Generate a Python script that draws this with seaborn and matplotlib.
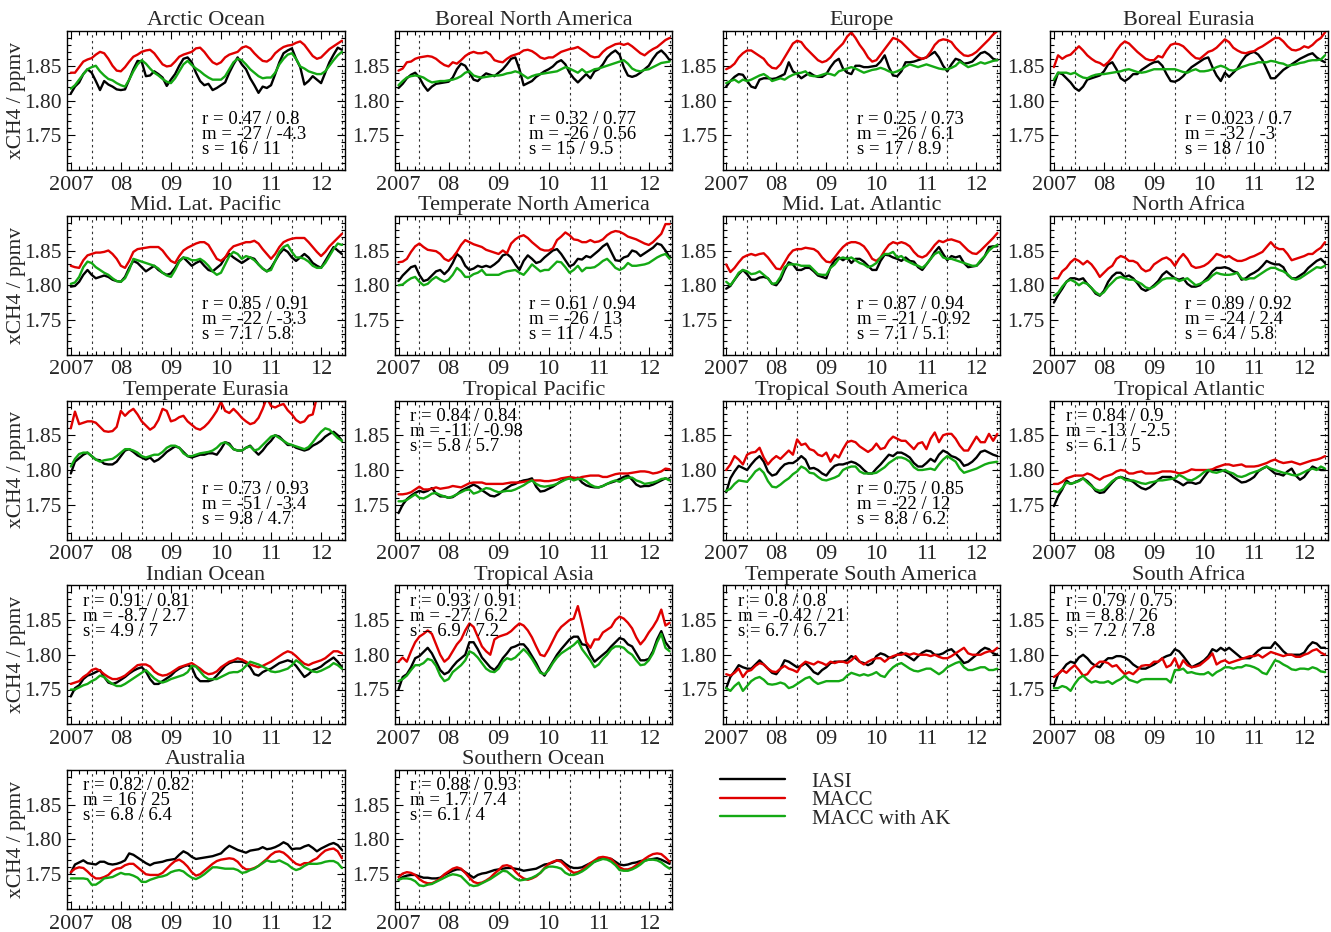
import numpy as np
import pandas as pd
import matplotlib
matplotlib.use("Agg")
import matplotlib.pyplot as plt
from matplotlib.ticker import MultipleLocator
import seaborn as sns

# Monthly regional xCH4 means (ppbv), January 2007 - June 2012
arctic_iasi = [1810,1820,1826,1838,1845,1840,1828,1815,1828,1823,1820,1816, 1815,1816,1830,1845,1857,1856,1835,1836,1842,1838,1833,1821, 1830,1838,1850,1860,1862,1855,1840,1828,1822,1824,1815,1818, 1822,1826,1840,1852,1862,1852,1845,1832,1822,1811,1820,1818, 1822,1838,1855,1868,1872,1875,1860,1848,1823,1828,1835,1830, 1825,1840,1855,1866,1876,1873]
arctic_macc = [1840,1840,1848,1856,1859,1861,1866,1870,1868,1860,1850,1843, 1842,1848,1856,1863,1866,1870,1872,1873,1868,1860,1852,1849, 1850,1856,1863,1866,1868,1870,1875,1876,1870,1862,1855,1852, 1855,1862,1866,1868,1870,1876,1878,1875,1868,1862,1857,1856, 1860,1868,1873,1877,1879,1880,1883,1885,1880,1872,1864,1860, 1862,1868,1874,1878,1882,1886]
arctic_ak = [1817,1822,1830,1838,1845,1848,1850,1842,1836,1831,1829,1825, 1822,1820,1830,1842,1852,1858,1853,1846,1840,1836,1831,1827, 1825,1832,1842,1852,1857,1851,1846,1842,1837,1833,1830,1830, 1830,1835,1845,1855,1860,1858,1852,1845,1840,1835,1832,1833, 1833,1840,1852,1860,1866,1868,1860,1849,1846,1842,1840,1838, 1838,1842,1850,1858,1865,1870]

bna_iasi = [1818,1824,1832,1837,1840,1833,1822,1814,1820,1824,1825,1826, 1827,1833,1845,1853,1850,1840,1830,1828,1834,1839,1837,1835, 1840,1845,1852,1860,1862,1845,1822,1825,1828,1834,1838,1842, 1845,1849,1855,1858,1852,1840,1832,1826,1832,1838,1832,1842, 1845,1852,1862,1868,1872,1866,1848,1836,1834,1836,1840,1845, 1850,1860,1868,1872,1866,1858]
bna_macc = [1843,1846,1855,1856,1860,1862,1863,1864,1863,1860,1855,1851, 1849,1855,1853,1858,1864,1868,1870,1868,1868,1870,1866,1858, 1856,1855,1860,1864,1866,1868,1872,1873,1871,1867,1862,1860, 1862,1862,1866,1870,1872,1874,1875,1877,1873,1869,1864,1862, 1863,1870,1875,1878,1881,1882,1880,1882,1878,1873,1868,1865, 1870,1874,1877,1882,1887,1890]
bna_ak = [1822,1828,1833,1835,1836,1835,1833,1829,1826,1827,1828,1828, 1829,1830,1832,1835,1840,1842,1836,1834,1833,1834,1835,1836, 1836,1837,1839,1840,1842,1840,1836,1832,1835,1837,1838,1839, 1840,1841,1842,1845,1848,1846,1843,1840,1845,1840,1842,1845, 1846,1848,1850,1852,1854,1856,1858,1853,1846,1843,1842,1844, 1845,1848,1851,1854,1855,1856]

eur_iasi = [1820,1828,1834,1838,1837,1828,1820,1818,1830,1832,1832,1831, 1832,1835,1838,1855,1842,1838,1832,1836,1840,1836,1834,1834, 1838,1848,1856,1860,1846,1840,1838,1850,1850,1848,1848,1849, 1850,1856,1865,1848,1836,1835,1842,1855,1855,1856,1858,1860, 1862,1866,1870,1862,1850,1842,1852,1860,1858,1853,1854,1856, 1862,1868,1870,1866,1860,1858]
eur_macc = [1845,1848,1853,1862,1868,1872,1872,1868,1864,1860,1852,1847, 1846,1852,1862,1872,1882,1886,1884,1876,1870,1864,1858,1855, 1857,1862,1870,1876,1882,1892,1898,1890,1880,1872,1862,1856, 1858,1866,1874,1882,1890,1888,1884,1878,1872,1866,1862,1860, 1862,1870,1880,1886,1888,1887,1884,1876,1870,1865,1864,1866, 1870,1876,1882,1888,1895,1900]
eur_ak = [1825,1828,1830,1826,1830,1828,1830,1833,1836,1838,1834,1828, 1830,1832,1830,1834,1837,1839,1840,1842,1836,1835,1835,1837, 1839,1838,1836,1842,1844,1846,1848,1846,1843,1840,1842,1844, 1845,1847,1845,1842,1840,1842,1845,1849,1852,1850,1848,1850, 1852,1850,1848,1846,1845,1845,1847,1850,1856,1852,1848,1850, 1852,1855,1853,1855,1857,1858]

beu_iasi = [1822,1840,1838,1832,1826,1818,1814,1820,1830,1832,1834,1836, 1842,1852,1855,1845,1832,1828,1832,1838,1838,1844,1848,1852, 1855,1856,1850,1838,1828,1827,1830,1835,1842,1848,1852,1856, 1860,1862,1848,1836,1828,1840,1834,1840,1846,1856,1864,1868, 1870,1866,1858,1845,1832,1832,1838,1844,1848,1852,1856,1860, 1863,1866,1868,1862,1858,1855]
beu_macc = [1848,1865,1860,1864,1866,1872,1878,1872,1865,1860,1856,1854, 1850,1855,1862,1872,1880,1885,1882,1876,1870,1865,1860,1858, 1858,1864,1862,1872,1880,1882,1881,1878,1872,1866,1861,1860, 1865,1870,1872,1876,1882,1888,1884,1876,1872,1869,1868,1870, 1871,1875,1878,1882,1886,1890,1890,1885,1878,1873,1872,1874, 1878,1876,1880,1886,1890,1898]
beu_ak = [1830,1840,1840,1840,1838,1840,1836,1833,1832,1835,1837,1838, 1838,1839,1840,1841,1842,1844,1845,1843,1841,1840,1841,1843, 1845,1845,1845,1845,1845,1845,1843,1841,1840,1843,1845,1842, 1842,1843,1845,1848,1850,1848,1844,1843,1845,1848,1850,1852, 1853,1855,1855,1855,1857,1856,1854,1853,1850,1851,1852,1854, 1855,1857,1858,1858,1859,1865]

mlp_iasi = [1798,1799,1805,1815,1822,1815,1810,1812,1814,1812,1808,1806, 1805,1812,1825,1835,1832,1826,1820,1824,1828,1822,1818,1815, 1817,1825,1835,1840,1834,1828,1832,1835,1828,1822,1820,1825, 1830,1840,1845,1840,1836,1832,1836,1840,1838,1830,1824,1820, 1825,1835,1845,1852,1848,1840,1835,1840,1845,1840,1832,1828, 1825,1835,1845,1855,1850,1845]
mlp_macc = [1828,1826,1825,1836,1843,1845,1847,1847,1848,1850,1845,1838, 1828,1825,1835,1848,1852,1853,1854,1855,1855,1855,1850,1842, 1835,1832,1842,1850,1854,1857,1860,1862,1862,1858,1848,1838, 1835,1840,1850,1856,1858,1860,1862,1862,1864,1860,1852,1845, 1838,1845,1855,1862,1865,1867,1868,1868,1868,1862,1855,1848, 1842,1848,1856,1862,1868,1874]
mlp_ak = [1802,1804,1812,1826,1834,1832,1826,1822,1818,1815,1810,1806, 1805,1810,1822,1838,1836,1834,1832,1830,1828,1824,1818,1814, 1812,1822,1834,1840,1839,1836,1836,1838,1834,1828,1820,1815, 1818,1830,1842,1848,1845,1838,1842,1840,1836,1830,1824,1820, 1822,1835,1848,1855,1858,1848,1840,1840,1838,1834,1828,1825, 1825,1832,1842,1852,1860,1858]

tna_iasi = [1806,1814,1820,1826,1828,1815,1806,1808,1814,1820,1822,1816, 1822,1832,1845,1840,1828,1822,1824,1828,1826,1828,1826,1830, 1835,1843,1845,1840,1830,1822,1835,1843,1838,1832,1834,1840, 1845,1850,1852,1845,1836,1827,1830,1838,1837,1842,1840,1845, 1850,1856,1860,1848,1836,1835,1840,1842,1850,1848,1842,1846, 1850,1854,1860,1858,1850,1840]
tna_macc = [1833,1834,1838,1848,1856,1860,1855,1851,1850,1849,1845,1838, 1835,1840,1848,1858,1865,1862,1859,1857,1855,1851,1849,1847, 1845,1850,1846,1860,1866,1870,1872,1868,1862,1857,1852,1850, 1850,1853,1865,1870,1876,1872,1866,1865,1862,1862,1865,1862, 1863,1866,1872,1876,1878,1877,1874,1870,1868,1866,1863,1860, 1858,1862,1868,1874,1888,1888]
tna_ak = [1800,1801,1806,1810,1812,1805,1800,1802,1808,1812,1808,1805, 1808,1815,1825,1820,1812,1812,1816,1818,1822,1815,1815,1815, 1815,1818,1820,1821,1822,1818,1815,1822,1830,1825,1820,1822, 1822,1828,1834,1833,1826,1818,1822,1828,1820,1825,1825,1826, 1830,1835,1838,1832,1825,1822,1825,1832,1828,1828,1829,1830, 1832,1836,1840,1843,1845,1838]

mla_iasi = [1795,1799,1808,1816,1822,1816,1808,1808,1811,1812,1810,1802, 1800,1808,1822,1833,1830,1822,1822,1825,1825,1820,1814,1812, 1810,1826,1836,1840,1836,1840,1832,1838,1838,1834,1828,1822, 1822,1835,1844,1843,1840,1838,1835,1840,1835,1834,1826,1822, 1830,1838,1848,1855,1845,1836,1842,1840,1842,1832,1826,1827, 1828,1834,1842,1855,1856,1856]
mla_macc = [1830,1819,1825,1833,1840,1843,1845,1843,1845,1846,1840,1832, 1824,1823,1833,1843,1850,1852,1852,1854,1853,1852,1848,1840, 1834,1833,1840,1848,1855,1860,1862,1862,1860,1856,1848,1838, 1835,1840,1850,1858,1862,1860,1862,1860,1856,1848,1842,1840, 1843,1850,1858,1864,1862,1865,1866,1864,1862,1856,1850,1846, 1845,1850,1856,1862,1868,1875]
mla_ak = [1805,1800,1808,1818,1822,1820,1816,1817,1820,1815,1810,1802, 1803,1812,1826,1830,1830,1830,1828,1828,1828,1822,1816,1815, 1815,1825,1830,1838,1840,1838,1840,1836,1832,1830,1826,1828, 1832,1840,1845,1845,1848,1840,1842,1836,1833,1830,1828,1825, 1830,1838,1845,1848,1840,1838,1838,1836,1834,1832,1830,1828, 1828,1836,1842,1850,1855,1858]

naf_iasi = [1775,1786,1795,1805,1810,1810,1808,1810,1802,1796,1788,1785, 1792,1805,1813,1818,1818,1812,1814,1810,1803,1795,1792,1795, 1800,1806,1815,1820,1815,1810,1808,1810,1802,1798,1798,1800, 1806,1812,1820,1825,1825,1826,1824,1820,1818,1808,1810,1815, 1818,1822,1828,1835,1832,1830,1830,1826,1815,1810,1810,1814, 1818,1825,1830,1835,1838,1832]
naf_macc = [1810,1810,1820,1825,1833,1838,1835,1830,1835,1830,1822,1812, 1818,1824,1828,1838,1842,1840,1835,1835,1832,1824,1820,1822, 1830,1834,1838,1840,1836,1828,1838,1845,1838,1828,1825,1826, 1828,1832,1838,1845,1843,1840,1842,1838,1835,1835,1837,1840, 1842,1845,1848,1855,1862,1855,1852,1852,1845,1836,1838,1840, 1842,1845,1845,1850,1854,1862]
naf_ak = [1785,1789,1798,1805,1808,1805,1800,1804,1802,1796,1790,1786, 1790,1798,1804,1810,1812,1810,1808,1808,1805,1802,1797,1795, 1798,1803,1808,1810,1810,1810,1806,1808,1810,1805,1800,1802, 1805,1808,1814,1818,1816,1815,1815,1816,1818,1810,1808,1810, 1810,1814,1818,1822,1825,1825,1822,1820,1816,1810,1808,1810, 1814,1818,1822,1826,1825,1828]

teu_iasi = [1795,1812,1817,1822,1825,1820,1815,1814,1809,1808,1808,1812, 1820,1828,1830,1826,1821,1818,1815,1818,1812,1815,1820,1826, 1830,1834,1832,1826,1820,1818,1820,1822,1822,1824,1824,1822, 1830,1840,1838,1830,1828,1828,1832,1835,1828,1822,1828,1836, 1842,1850,1848,1842,1836,1836,1832,1830,1828,1830,1835,1838, 1842,1848,1852,1855,1850,1842]
teu_macc = [1860,1884,1866,1868,1870,1870,1868,1862,1856,1855,1856,1862, 1885,1878,1884,1888,1880,1870,1864,1858,1862,1872,1888,1885, 1870,1872,1876,1878,1870,1865,1860,1858,1862,1868,1876,1885, 1898,1885,1882,1888,1882,1875,1870,1866,1868,1875,1888,1904, 1892,1890,1893,1895,1886,1880,1872,1868,1870,1878,1880,1905, 1910,1912,1908,1906,1904,1899]
teu_ak = [1805,1816,1823,1825,1825,1820,1815,1812,1814,1815,1816,1820, 1825,1830,1830,1828,1825,1820,1818,1820,1822,1822,1826,1832, 1835,1835,1832,1824,1820,1820,1822,1824,1825,1826,1828,1832, 1838,1840,1836,1830,1828,1828,1832,1834,1828,1830,1836,1842, 1848,1850,1846,1842,1838,1836,1834,1832,1830,1833,1840,1848, 1855,1860,1858,1852,1846,1842]

tpac_iasi = [1738,1750,1758,1763,1767,1770,1768,1770,1774,1766,1762,1762, 1760,1761,1765,1770,1773,1776,1779,1776,1771,1767,1763,1762, 1765,1770,1774,1778,1780,1783,1785,1786,1788,1776,1769,1770, 1773,1776,1780,1784,1787,1788,1787,1789,1782,1778,1776,1775, 1775,1777,1780,1782,1784,1787,1790,1792,1786,1779,1776,1777, 1777,1779,1782,1785,1788,1786]
tpac_macc = [1765,1765,1766,1768,1772,1776,1772,1772,1773,1775,1773,1774, 1775,1777,1776,1775,1778,1781,1782,1782,1782,1780,1780,1780, 1780,1780,1781,1782,1782,1782,1783,1784,1785,1785,1785,1784, 1784,1785,1786,1788,1789,1790,1789,1788,1790,1791,1792,1792, 1792,1790,1790,1792,1794,1795,1795,1795,1796,1797,1798,1798, 1797,1795,1796,1798,1802,1801]
tpac_ak = [1755,1755,1757,1761,1765,1760,1759,1762,1766,1767,1764,1762, 1760,1762,1765,1768,1771,1772,1766,1768,1771,1774,1773,1770, 1768,1769,1770,1770,1772,1775,1778,1782,1785,1780,1777,1776, 1777,1778,1780,1783,1786,1788,1785,1787,1787,1784,1779,1776, 1775,1777,1780,1783,1785,1783,1787,1789,1789,1785,1783,1780, 1781,1782,1784,1787,1788,1785]

tsa_iasi = [1768,1788,1798,1806,1803,1800,1808,1815,1820,1812,1798,1792, 1794,1802,1808,1810,1810,1814,1820,1815,1802,1803,1800,1795, 1792,1800,1806,1808,1808,1810,1812,1810,1806,1800,1795,1795, 1802,1808,1815,1822,1820,1825,1825,1822,1818,1810,1805,1805, 1810,1816,1812,1822,1828,1825,1820,1818,1814,1806,1808,1812, 1818,1826,1828,1825,1822,1820]
tsa_macc = [1800,1808,1820,1815,1808,1822,1825,1826,1832,1818,1808,1815, 1820,1816,1822,1828,1822,1844,1836,1838,1830,1828,1822,1820, 1825,1812,1822,1818,1830,1840,1842,1840,1834,1830,1826,1830, 1838,1830,1832,1842,1848,1845,1842,1842,1836,1830,1838,1840, 1830,1845,1854,1840,1850,1852,1852,1845,1835,1828,1828,1838, 1848,1840,1840,1852,1842,1852]
tsa_ak = [1770,1773,1780,1785,1784,1783,1790,1798,1802,1796,1784,1776, 1775,1779,1784,1788,1794,1798,1805,1802,1796,1795,1790,1786, 1785,1787,1789,1792,1800,1803,1805,1805,1798,1795,1795,1795, 1796,1800,1804,1810,1814,1818,1818,1816,1812,1804,1800,1800, 1801,1802,1800,1808,1815,1820,1816,1812,1802,1796,1798,1800, 1802,1805,1808,1810,1811,1812]

tatl_iasi = [1748,1762,1772,1785,1780,1782,1785,1788,1784,1778,1770,1767, 1768,1775,1782,1788,1790,1788,1786,1783,1778,1774,1772,1775, 1780,1786,1790,1790,1790,1785,1782,1778,1782,1782,1780,1782, 1790,1798,1800,1800,1800,1798,1795,1790,1786,1782,1783,1786, 1790,1798,1802,1805,1800,1795,1794,1792,1798,1802,1792,1786, 1790,1798,1805,1802,1800,1800]
tatl_macc = [1780,1780,1783,1788,1790,1792,1792,1792,1795,1793,1789,1786, 1790,1792,1794,1798,1800,1799,1795,1795,1797,1798,1795,1795, 1795,1796,1798,1798,1798,1797,1795,1796,1798,1801,1800,1800, 1800,1800,1801,1804,1806,1808,1808,1806,1807,1808,1805,1805, 1805,1806,1808,1810,1813,1815,1812,1810,1811,1812,1810,1808, 1810,1812,1814,1815,1817,1820]
tatl_ak = [1770,1768,1774,1782,1780,1782,1784,1788,1782,1777,1772,1770, 1772,1778,1784,1788,1790,1786,1785,1785,1783,1781,1780,1782, 1783,1785,1785,1786,1787,1788,1793,1790,1786,1785,1788,1792, 1797,1800,1797,1796,1798,1800,1797,1795,1791,1790,1792,1795, 1797,1799,1802,1805,1802,1800,1798,1796,1795,1793,1792,1794, 1797,1800,1802,1800,1805,1802]

io_iasi = [1740,1752,1756,1765,1770,1772,1775,1778,1768,1760,1758,1760, 1764,1768,1773,1777,1780,1782,1776,1765,1758,1758,1762,1766, 1770,1776,1780,1783,1785,1782,1768,1762,1762,1762,1764,1770, 1777,1784,1788,1790,1790,1790,1788,1782,1772,1770,1775,1778, 1780,1784,1788,1790,1792,1790,1784,1776,1768,1772,1778,1780, 1783,1788,1792,1796,1790,1782]
io_macc = [1758,1760,1762,1768,1772,1778,1780,1777,1772,1768,1765,1765, 1767,1770,1775,1780,1785,1786,1786,1783,1776,1772,1770,1771, 1774,1778,1782,1784,1786,1788,1784,1780,1775,1772,1773,1776, 1782,1786,1790,1792,1795,1793,1790,1786,1784,1782,1784,1787, 1790,1794,1798,1802,1805,1803,1798,1792,1787,1785,1788,1790, 1792,1795,1800,1805,1805,1802]
io_ak = [1750,1750,1753,1756,1758,1762,1765,1770,1768,1762,1758,1755, 1755,1758,1762,1766,1770,1774,1778,1772,1766,1762,1760,1762, 1765,1767,1769,1771,1775,1784,1783,1776,1769,1765,1765,1765, 1768,1771,1774,1775,1775,1778,1784,1790,1788,1786,1783,1780, 1776,1775,1776,1778,1780,1785,1792,1788,1782,1779,1776,1775, 1777,1780,1783,1788,1785,1780]

tas_iasi = [1750,1768,1772,1782,1795,1798,1804,1810,1802,1790,1778,1772, 1775,1783,1790,1795,1800,1818,1818,1808,1796,1789,1782,1778, 1785,1795,1802,1810,1812,1815,1815,1808,1798,1788,1776,1770, 1780,1790,1800,1808,1815,1822,1826,1826,1815,1814,1800,1790, 1795,1800,1805,1812,1818,1824,1822,1815,1812,1802,1792,1792, 1794,1805,1822,1834,1818,1810]
tas_macc = [1790,1796,1790,1805,1818,1826,1830,1835,1830,1815,1800,1790, 1795,1805,1815,1822,1835,1845,1840,1826,1812,1805,1800,1822, 1826,1828,1830,1834,1840,1845,1842,1835,1825,1812,1800,1798, 1808,1820,1832,1840,1845,1850,1852,1870,1845,1818,1810,1822, 1822,1832,1836,1840,1850,1855,1852,1846,1838,1825,1815,1822, 1832,1840,1850,1865,1842,1846]
tas_ak = [1762,1765,1770,1778,1785,1785,1788,1794,1792,1784,1770,1762, 1765,1775,1780,1785,1792,1805,1802,1796,1788,1780,1776,1775, 1780,1790,1795,1793,1796,1802,1808,1802,1794,1784,1774,1772, 1778,1788,1796,1802,1806,1810,1814,1820,1808,1800,1792,1782, 1786,1794,1800,1808,1812,1812,1810,1804,1800,1792,1785,1786, 1792,1802,1818,1830,1810,1805]

tsam_iasi = [1752,1768,1776,1785,1782,1780,1780,1786,1792,1786,1780,1774, 1772,1780,1792,1790,1786,1782,1784,1788,1782,1775,1772,1778, 1782,1788,1790,1790,1790,1792,1798,1795,1790,1788,1785,1788, 1798,1802,1800,1796,1796,1800,1803,1800,1796,1792,1798,1803, 1806,1805,1800,1800,1802,1806,1808,1802,1795,1788,1790,1795, 1800,1806,1810,1808,1802,1800]
tsam_macc = [1772,1770,1774,1780,1768,1776,1778,1784,1788,1786,1780,1776, 1775,1780,1784,1780,1778,1775,1785,1790,1788,1786,1790,1788, 1785,1790,1788,1790,1790,1788,1792,1798,1790,1786,1790,1793, 1795,1795,1790,1795,1798,1800,1800,1802,1800,1802,1800,1800, 1800,1798,1800,1797,1795,1795,1798,1802,1806,1810,1802,1800, 1800,1800,1803,1805,1805,1810]
tsam_ak = [1752,1748,1755,1760,1748,1755,1762,1766,1768,1764,1758,1757, 1758,1760,1758,1752,1754,1758,1762,1766,1768,1762,1758,1760, 1762,1762,1762,1762,1764,1770,1774,1772,1770,1772,1770,1772, 1775,1770,1768,1776,1782,1786,1788,1784,1780,1777,1776,1778, 1780,1780,1776,1772,1776,1782,1785,1788,1790,1782,1778,1778, 1780,1782,1782,1778,1778,1780]

saf_iasi = [1755,1772,1778,1786,1790,1788,1796,1800,1795,1788,1784,1782, 1790,1795,1795,1798,1798,1796,1792,1786,1782,1780,1780,1783, 1786,1790,1795,1798,1800,1808,1805,1798,1790,1782,1785,1788, 1792,1798,1808,1805,1810,1806,1810,1805,1800,1795,1795,1795, 1800,1806,1810,1810,1810,1818,1812,1805,1800,1800,1800,1800, 1803,1812,1818,1816,1810,1810]
saf_macc = [1768,1772,1778,1774,1780,1785,1778,1770,1772,1780,1785,1790, 1790,1788,1783,1785,1778,1772,1775,1772,1778,1784,1785,1785, 1790,1790,1795,1782,1785,1795,1780,1792,1785,1782,1783,1785, 1790,1795,1802,1786,1790,1792,1788,1790,1792,1794,1796,1798, 1798,1800,1796,1800,1804,1802,1800,1798,1800,1800,1797,1797, 1800,1802,1806,1808,1803,1800]
saf_ak = [1752,1752,1755,1753,1748,1758,1766,1770,1764,1760,1762,1760, 1760,1762,1758,1762,1765,1770,1764,1762,1760,1764,1765,1765, 1765,1765,1765,1765,1760,1778,1778,1780,1774,1775,1773,1772, 1772,1775,1770,1775,1778,1782,1782,1780,1782,1782,1785,1784, 1782,1779,1774,1772,1782,1792,1790,1786,1783,1779,1778,1780, 1780,1779,1782,1780,1776,1775]

aus_iasi = [1752,1764,1767,1770,1766,1765,1764,1768,1768,1765,1764,1765, 1767,1770,1780,1778,1774,1770,1766,1763,1766,1767,1768,1770, 1771,1772,1778,1783,1780,1775,1772,1773,1774,1775,1776,1778, 1780,1786,1791,1788,1785,1783,1781,1784,1785,1786,1789,1786, 1787,1789,1792,1796,1793,1786,1787,1787,1790,1792,1788,1783, 1787,1790,1793,1795,1792,1785]
aus_macc = [1753,1758,1760,1759,1754,1748,1744,1744,1746,1749,1755,1758, 1759,1763,1765,1765,1760,1755,1750,1749,1749,1749,1752,1758, 1764,1769,1771,1767,1761,1753,1748,1750,1755,1760,1765,1769, 1771,1772,1773,1772,1768,1761,1757,1757,1759,1762,1767,1772, 1778,1782,1783,1781,1776,1770,1765,1763,1766,1766,1770,1773, 1779,1784,1786,1787,1783,1773]
aus_ak = [1744,1744,1744,1744,1743,1735,1735,1739,1744,1745,1746,1749, 1752,1750,1750,1748,1745,1739,1739,1742,1744,1746,1747,1749, 1753,1755,1756,1754,1749,1745,1743,1746,1750,1755,1760,1760, 1759,1758,1758,1758,1756,1752,1753,1756,1758,1762,1766,1770, 1768,1768,1770,1767,1764,1759,1756,1758,1762,1765,1765,1765, 1766,1768,1769,1769,1766,1759]

so_iasi = [1742,1746,1748,1749,1749,1747,1745,1745,1744,1744,1745,1749, 1752,1755,1757,1757,1753,1749,1745,1749,1751,1752,1754,1756, 1757,1758,1759,1759,1758,1757,1755,1756,1757,1758,1761,1764, 1765,1767,1770,1770,1765,1761,1759,1759,1760,1763,1766,1768, 1771,1773,1773,1772,1768,1764,1763,1764,1766,1767,1769,1770, 1771,1772,1773,1771,1768,1765]
so_macc = [1746,1751,1753,1752,1749,1743,1739,1737,1737,1740,1744,1750, 1754,1758,1760,1758,1752,1745,1739,1737,1738,1741,1745,1751, 1756,1762,1763,1761,1754,1748,1744,1742,1744,1747,1752,1759, 1765,1768,1770,1768,1762,1756,1752,1753,1756,1761,1766,1770, 1774,1775,1774,1772,1765,1760,1757,1757,1759,1763,1767,1772, 1776,1779,1780,1779,1774,1768]
so_ak = [1742,1744,1744,1743,1740,1734,1733,1735,1736,1739,1742,1745, 1748,1750,1749,1747,1741,1735,1733,1734,1737,1740,1743,1747, 1751,1755,1754,1749,1744,1741,1742,1743,1745,1748,1752,1758, 1761,1761,1760,1758,1752,1749,1749,1751,1754,1758,1763,1768, 1770,1772,1771,1768,1763,1756,1755,1755,1757,1760,1764,1769, 1771,1771,1770,1767,1762,1758]

# Panel titles and statistics (IASI vs MACC / IASI vs MACC with AK)
region_names = ["Arctic Ocean", "Boreal North America", "Europe", "Boreal Eurasia",
                "Mid. Lat. Pacific", "Temperate North America", "Mid. Lat. Atlantic", "North Africa",
                "Temperate Eurasia", "Tropical Pacific", "Tropical South America", "Tropical Atlantic",
                "Indian Ocean", "Tropical Asia", "Temperate South America", "South Africa",
                "Australia", "Southern Ocean"]
stat_r = ["0.47 / 0.8", "0.32 / 0.77", "0.25 / 0.73", "0.023 / 0.7",
          "0.85 / 0.91", "0.61 / 0.94", "0.87 / 0.94", "0.89 / 0.92",
          "0.73 / 0.93", "0.84 / 0.84", "0.75 / 0.85", "0.84 / 0.9",
          "0.91 / 0.81", "0.93 / 0.91", "0.8 / 0.8", "0.79 / 0.75",
          "0.82 / 0.82", "0.88 / 0.93"]
stat_m = ["-27 / -4.3", "-26 / 0.56", "-26 / 6.1", "-32 / -3",
          "-22 / -3.3", "-26 / 13", "-21 / -0.92", "-24 / 2.4",
          "-51 / -3.4", "-11 / -0.98", "-22 / 12", "-13 / -2.5",
          "-8.7 / 2.7", "-27 / 6.2", "-0.42 / 21", "8.8 / 26",
          "16 / 25", "1.7 / 7.4"]
stat_s = ["16 / 11", "15 / 9.5", "17 / 8.9", "18 / 10",
          "7.1 / 5.8", "11 / 4.5", "7.1 / 5.1", "6.4 / 5.8",
          "9.8 / 4.7", "5.8 / 5.7", "8.8 / 6.2", "6.1 / 5",
          "4.9 / 7", "6.9 / 7.2", "6.7 / 6.7", "7.2 / 7.8",
          "6.8 / 6.4", "6.1 / 4"]
stat_upper_left = [False, False, False, False, False, False, False, False,
                   False, True, False, True, True, True, True, True, True, True]

series_iasi = [arctic_iasi, bna_iasi, eur_iasi, beu_iasi, mlp_iasi, tna_iasi, mla_iasi, naf_iasi,
               teu_iasi, tpac_iasi, tsa_iasi, tatl_iasi, io_iasi, tas_iasi, tsam_iasi, saf_iasi,
               aus_iasi, so_iasi]
series_macc = [arctic_macc, bna_macc, eur_macc, beu_macc, mlp_macc, tna_macc, mla_macc, naf_macc,
               teu_macc, tpac_macc, tsa_macc, tatl_macc, io_macc, tas_macc, tsam_macc, saf_macc,
               aus_macc, so_macc]
series_ak = [arctic_ak, bna_ak, eur_ak, beu_ak, mlp_ak, tna_ak, mla_ak, naf_ak,
             teu_ak, tpac_ak, tsa_ak, tatl_ak, io_ak, tas_ak, tsam_ak, saf_ak,
             aus_ak, so_ak]

sources = ["IASI", "MACC", "MACC with AK"]
palette = {"IASI": "#000000", "MACC": "#e00000", "MACC with AK": "#14a914"}
year_ticks = [2007, 2008, 2009, 2010, 2011, 2012]
year_labels = ["2007", "08", "09", "10", "11", "12"]

sns.set_style("ticks")
plt.rcParams["font.family"] = ["Liberation Serif", "DejaVu Serif"]
plt.rcParams["axes.linewidth"] = 1.0

W, H = 1331, 932
fig = plt.figure(figsize=(W / 100, H / 100), dpi=100)

col_left = [67.3, 395.0, 722.7, 1050.4]
row_top = [31.0, 215.75, 400.5, 585.25, 770.0]
ax_w, ax_h = 277.3, 139.0

FS_TITLE = 16
FS_XTICK = 16
FS_YTICK = 15.5
legend_handles = None
for i, name in enumerate(region_names):
    r, c = divmod(i, 4)
    ax = fig.add_axes([col_left[c] / W, 1 - (row_top[r] + ax_h) / H, ax_w / W, ax_h / H])

    vals = [series_iasi[i], series_macc[i], series_ak[i]]
    frames = []
    for src, v in zip(sources, vals):
        t = 2007 + np.arange(len(v)) / 12.0
        frames.append(pd.DataFrame({"time": t, "xch4": np.asarray(v) / 1000.0, "source": src}))
    df = pd.concat(frames, ignore_index=True)
    sns.lineplot(data=df, x="time", y="xch4", hue="source", hue_order=sources,
                 palette=palette, linewidth=1.7, estimator=None, sort=False,
                 legend=False, ax=ax)
    if legend_handles is None:
        legend_handles = list(ax.get_lines()[:3])

    for yr in year_ticks:
        ax.axvline(yr + 5 / 12, color="#333333", lw=0.8, ls=(0, (2.2, 3.0)), zorder=0)

    ax.set_xlim(2006.93, 2012.47)
    ax.set_ylim(1.70, 1.90)
    ax.set_xticks(year_ticks)
    ax.set_xticklabels(year_labels)
    ax.xaxis.set_minor_locator(MultipleLocator(1 / 6))
    ax.set_yticks([1.75, 1.80, 1.85])
    ax.set_yticklabels(["1.75", "1.80", "1.85"])
    ax.yaxis.set_minor_locator(MultipleLocator(0.01))
    ax.tick_params(which="both", direction="in", top=True, right=True,
                   color="black", width=0.8)
    ax.tick_params(which="major", length=6, pad=4)
    ax.tick_params(which="minor", length=3)
    ax.tick_params(axis="x", labelsize=FS_XTICK)
    ax.tick_params(axis="y", labelsize=FS_YTICK)
    for sp in ax.spines.values():
        sp.set_color("black")
        sp.set_linewidth(1.0)
    ax.set_xlabel("")
    ax.set_title(name, fontsize=FS_TITLE, pad=4)
    if c == 0:
        ax.set_ylabel("xCH4 / ppmv", fontsize=15.5)
        ax.yaxis.set_label_coords(-0.15, 0.5)
    else:
        ax.set_ylabel("")

    lines = ["r = " + stat_r[i], "m = " + stat_m[i], "s = " + stat_s[i]]
    if stat_upper_left[i]:
        x0, ys = 0.055, [0.885, 0.778, 0.670]
    else:
        x0, ys = 0.485, [0.362, 0.254, 0.146]
    for txt, yy in zip(lines, ys):
        ax.text(x0, yy, txt, transform=ax.transAxes, fontsize=13.5,
                ha="left", va="center", color="black")

fig.legend(legend_handles, sources, loc="upper left",
           bbox_to_anchor=(720 / W, 1 - 772 / H), frameon=False, fontsize=15,
           handlelength=3.1, handletextpad=1.3, labelspacing=-0.05,
           borderpad=0, borderaxespad=0)

fig.savefig("out.png", dpi=100)
